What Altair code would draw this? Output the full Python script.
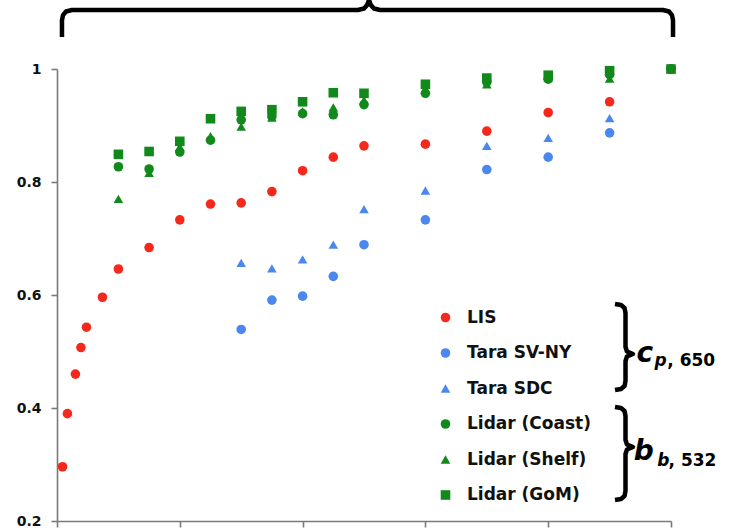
import altair as alt
import pandas as pd

# ---- series definitions -------------------------------------------------
SERIES = ["LIS", "Tara SV-NY", "Tara SDC", "Lidar (Coast)", "Lidar (Shelf)", "Lidar (GoM)"]
COLORS = ["#F5291B", "#4C87EF", "#4C87EF", "#12891B", "#12891B", "#12891B"]
SHAPES = ["circle", "circle", "triangle-up", "circle", "triangle-up", "square"]
SIZES = [92, 92, 100, 92, 100, 112]

lis_x = [0.9, 1.7, 3.0, 3.9, 4.8, 7.4, 10, 15, 20, 25, 30, 35, 40, 45, 50, 60, 70, 80, 90, 100]
lis_y = [0.296, 0.390, 0.460, 0.507, 0.543, 0.596, 0.646, 0.684, 0.733, 0.761,
         0.763, 0.783, 0.820, 0.844, 0.864, 0.867, 0.890, 0.923, 0.942, 1.0]

tara_x = [30, 35, 40, 45, 50, 60, 70, 80, 90, 100]
sv_ny_y = [0.539, 0.591, 0.598, 0.633, 0.689, 0.733, 0.822, 0.844, 0.887, 1.0]
sdc_y = [0.657, 0.647, 0.663, 0.689, 0.752, 0.785, 0.864, 0.878, 0.913, 1.0]

lidar_x = [10, 15, 20, 25, 30, 35, 40, 45, 50, 60, 70, 80, 90, 100]
coast_y = [0.827, 0.823, 0.853, 0.874, 0.910, 0.916, 0.921, 0.919, 0.937, 0.957, 0.977, 0.982, 0.990, 1.0]
shelf_y = [0.770, 0.816, 0.862, 0.881, 0.898, 0.914, 0.925, 0.932, 0.945, 0.965, 0.973, 0.985, 0.983, 1.0]
gom_y = [0.849, 0.854, 0.872, 0.912, 0.925, 0.928, 0.942, 0.958, 0.957, 0.973, 0.984, 0.989, 0.997, 1.0]

x_ticks = [0, 20, 40, 60, 80, 100]
y_ticks = [0.2, 0.4, 0.6, 0.8, 1.0]

series_data = [
    ("LIS", lis_x, lis_y),
    ("Tara SV-NY", tara_x, sv_ny_y),
    ("Tara SDC", tara_x, sdc_y),
    ("Lidar (Coast)", lidar_x, coast_y),
    ("Lidar (Shelf)", lidar_x, shelf_y),
    ("Lidar (GoM)", lidar_x, gom_y),
]
rows = []
for name, xs, ys in series_data:
    for xv, yv in zip(xs, ys):
        rows.append({"x": xv, "y": yv, "series": name})
points_df = pd.DataFrame(rows)

FONT = "DejaVu Sans"
x_scale = alt.Scale(domain=[0, 100], nice=False, zero=False)
y_scale = alt.Scale(domain=[0.2, 1.0], nice=False, zero=False)

legend = alt.Legend(
    title=None, orient="none", legendX=380, legendY=240,
    labelFont=FONT, labelFontWeight="bold", labelFontSize=17, labelColor="#111111",
    symbolSize=50, symbolStrokeWidth=0, rowPadding=17.5, labelOffset=13, padding=0,
)

points = alt.Chart(points_df).mark_point(filled=True, opacity=1).encode(
    x=alt.X("x:Q", scale=x_scale,
            axis=alt.Axis(values=x_ticks, labels=False, title=None, grid=False,
                          domainColor="#7a7a7a", domainWidth=1.6,
                          tickColor="#7a7a7a", tickWidth=1.6, tickSize=6)),
    y=alt.Y("y:Q", scale=y_scale,
            axis=alt.Axis(values=y_ticks, format="~g", title=None, grid=False,
                          labelFont=FONT, labelFontWeight="bold", labelFontSize=14,
                          labelColor="#111111", labelPadding=10,
                          domainColor="#7a7a7a", domainWidth=1.6,
                          tickColor="#7a7a7a", tickWidth=1.6, tickSize=6)),
    color=alt.Color("series:N", scale=alt.Scale(domain=SERIES, range=COLORS), legend=legend),
    shape=alt.Shape("series:N", scale=alt.Scale(domain=SERIES, range=SHAPES), legend=legend),
    size=alt.Size("series:N", scale=alt.Scale(domain=SERIES, range=SIZES), legend=None),
)


# ---- curly braces (data units) ------------------------------------------
def top_brace(x_left, x_right, x_mid, y_leg, y_bar, y_peak):
    pts = [
        (x_left, y_leg), (x_left, y_bar - 0.018), (x_left + 0.17, y_bar - 0.009),
        (x_left + 0.66, y_bar - 0.0026), (x_left + 1.63, y_bar),
        (x_mid - 1.8, y_bar), (x_mid - 0.8, y_bar + 0.0027), (x_mid - 0.3, y_bar + 0.009),
        (x_mid, y_peak),
        (x_mid + 0.3, y_bar + 0.009), (x_mid + 0.8, y_bar + 0.0027), (x_mid + 1.8, y_bar),
        (x_right - 1.63, y_bar), (x_right - 0.66, y_bar - 0.0026),
        (x_right - 0.17, y_bar - 0.009), (x_right, y_bar - 0.018), (x_right, y_leg),
    ]
    return pts


def side_brace(x_serif, x_stem, x_tip, y_top, y_mid, y_bot):
    pts = [
        (x_serif, y_top), (x_serif + 0.98, y_top - 0.0018), (x_stem - 0.16, y_top - 0.0071),
        (x_stem, y_top - 0.016),
        (x_stem, y_mid + 0.0124), (x_stem + 0.24, y_mid + 0.0044), (x_tip, y_mid),
        (x_stem + 0.24, y_mid - 0.0044), (x_stem, y_mid - 0.0124),
        (x_stem, y_bot + 0.016), (x_stem - 0.16, y_bot + 0.0071), (x_serif + 0.98, y_bot + 0.0018),
        (x_serif, y_bot),
    ]
    return pts


braces = {
    "top": top_brace(0.81, 100.33, 50.81, 1.0566, 1.1044, 1.1221),
    "cp": side_brace(90.88, 92.59, 93.81, 0.5841, 0.4956, 0.4319),
    "bb": side_brace(90.88, 92.59, 93.81, 0.4018, 0.3310, 0.2372),
}
brace_rows = []
for key, pts in braces.items():
    for i, (bx, by) in enumerate(pts):
        brace_rows.append({"bx": bx, "by": by, "grp": key, "i": i})
brace_df = pd.DataFrame(brace_rows)

brace_lines = alt.Chart(brace_df).mark_line(
    color="black", strokeWidth=4.5, strokeJoin="round", strokeCap="butt"
).encode(
    x=alt.X("bx:Q", scale=x_scale),
    y=alt.Y("by:Q", scale=y_scale),
    detail="grp:N",
    order=alt.Order("i:Q"),
)

# ---- brace labels: c_{p, 650} and b_{b, 532} ------------------------------
main_sym = pd.DataFrame({"tx": [94.4, 93.95], "ty": [0.4814, 0.3080], "t": ["c", "b"]})
sub_sym = pd.DataFrame({"tx": [97.3, 97.75], "ty": [0.4743, 0.2973], "t": ["p", "b"]})
sub_num = pd.DataFrame({"tx": [99.4, 99.6], "ty": [0.4743, 0.2973], "t": [", 650", ", 532"]})


def text_layer(df, size, italic):
    kw = dict(font=FONT, fontWeight="bold", fontSize=size, align="left",
              baseline="alphabetic", color="black")
    if italic:
        kw["fontStyle"] = "italic"
    return alt.Chart(df).mark_text(**kw).encode(
        x=alt.X("tx:Q", scale=x_scale),
        y=alt.Y("ty:Q", scale=y_scale),
        text="t:N",
    )


chart = alt.layer(
    brace_lines,
    text_layer(main_sym, 28, True),
    text_layer(sub_sym, 17, True),
    text_layer(sub_num, 17, False),
    points,
).properties(
    width=614, height=452,
    autosize=alt.AutoSizeParams(type="none"),
    padding={"left": 57, "top": 69, "right": 58, "bottom": 10},
    background="white",
).configure_view(stroke=None)

chart.save("out.html", embed_options={"renderer": "svg", "actions": False})
